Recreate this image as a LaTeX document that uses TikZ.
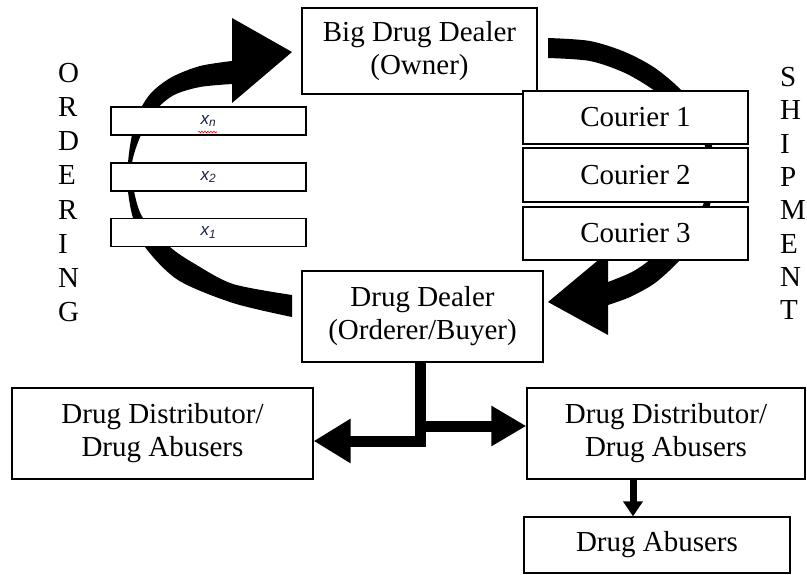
\documentclass[tikz,border=0pt]{standalone}
\usepackage{fontspec}
\setmainfont{Liberation Serif}
\setsansfont{Liberation Sans}
\usetikzlibrary{arrows.meta,decorations.pathmorphing}
\definecolor{lbl}{RGB}{25,35,70}
\begin{document}
\begin{tikzpicture}[x=1pt,y=-1pt,
  box/.style={draw, line width=1.3pt, fill=white, inner sep=0pt, align=center,
    font=\fontsize{29}{33}\selectfont},
  xbox/.style={draw, line width=1.3pt, fill=white, inner sep=0pt,
    minimum width=195pt, minimum height=28pt, font=\fontsize{17}{19}\sffamily\itshape, text=lbl},
  vword/.style={inner sep=0pt, align=left, anchor=west},
  flow/.style={line width=11pt, line join=miter, -{Triangle[length=#1]}},
  downflow/.style={line width=7pt, -{Triangle[length=15pt,width=19pt]}}
]
\useasboundingbox (0,0) rectangle (807,575);

% ordering arc (drug dealer -> big drug dealer)
\fill plot[smooth] coordinates {(232,61) (200,66) (172,77) (152,92) (140,110) (132,135) (128,163) (128,191) (133,218) (145,247) (178,280) (233,303) (292,317)}
  -- plot[smooth] coordinates {(292,295) (233,284) (195,264) (170,247) (143,218) (134,191) (132,163) (141,135) (156,110) (174,95) (200,87) (232,84)} -- cycle;
\fill (292,52) -- (232,18) -- (232,103) -- cycle;

% shipment arc (big drug dealer -> drug dealer)
\fill plot[smooth] coordinates {(548,38) (590,41) (625,52) (655,68) (682,91) (700,117) (712,146) (715,175) (710,205) (698,235) (680,260) (655,283) (630,297) (608,305)}
  -- plot[smooth] coordinates {(608,282) (632,272) (652,258) (680,230) (703,205) (708,175) (705,146) (686,117) (655,91) (625,73) (590,61) (548,58)} -- cycle;
\fill (548,302) -- (608,252) -- (608,335) -- cycle;

% boxes
\node[box, minimum width=235pt, minimum height=86pt] (big) at (419.5,51) {Big Drug Dealer\\(Owner)};
\node[box, minimum width=225pt, minimum height=53pt] (c1) at (635.5,117.5) {Courier 1};
\node[box, minimum width=225pt, minimum height=54pt] (c2) at (635.5,175) {Courier 2};
\node[box, minimum width=225pt, minimum height=53pt] (c3) at (635.5,233.5) {Courier 3};
\node[box, minimum width=241pt, minimum height=91pt] (dd) at (422.5,316.5) {Drug Dealer\\(Orderer/Buyer)};
\node[box, minimum width=301pt, minimum height=91pt] (ldist) at (162.5,433.5) {Drug Distributor/\\Drug Abusers};
\node[box, minimum width=278pt, minimum height=91pt] (rdist) at (666,433.5) {Drug Distributor/\\Drug Abusers};
\node[box, minimum width=266pt, minimum height=56pt] (abus) at (657,545) {Drug Abusers};

\node[xbox] (xn) at (208.5,121) {x\textsubscript{n}};
\node[xbox] (x2) at (208.5,177) {x\textsubscript{2}};
\node[xbox] (x1) at (208.5,232.5) {x\textsubscript{1}};
\draw[red, line width=0.6pt, decorate, decoration={snake, amplitude=0.9pt, segment length=3pt}]
  ([shift={(-10.5,11)}]xn.center) -- ([shift={(8.5,11)}]xn.center);

\node[vword, font=\fontsize{29}{34.1}\selectfont] (ord) at (58,192.5) {O\\R\\D\\E\\R\\I\\N\\G};
\node[vword, font=\fontsize{29}{33.3}\selectfont] (shp) at (780,193.5) {S\\H\\I\\P\\M\\E\\N\\T};

% distribution connectors
\coordinate (jl) at (420,441);
\coordinate (jr) at (420,426);
\coordinate (dx) at (633,500);
\draw[flow={37pt,width=42pt}] (dd.south -| jl) -- (jl) -- (ldist.east |- jl);
\draw[flow={35pt,width=38pt}] (jr) -- (rdist.west |- jr);
\draw[downflow] (rdist.south -| dx) -- (abus.north -| dx);
\end{tikzpicture}
\end{document}
